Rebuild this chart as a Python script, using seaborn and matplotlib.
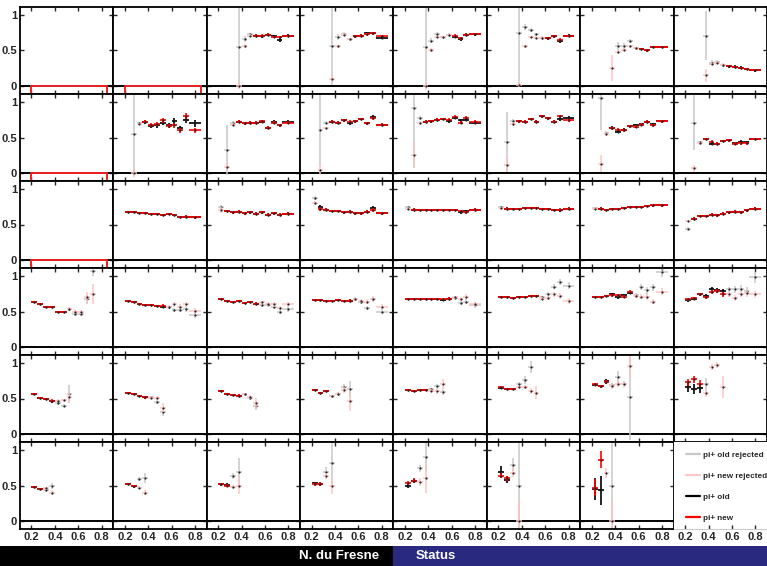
import matplotlib
matplotlib.use("Agg")
import numpy as np
import matplotlib.pyplot as plt
from matplotlib.lines import Line2D
import seaborn as sns

N = None

# bin edges shared by every panel (last bin is double width)
BIN_EDGES = [0.2, 0.25, 0.3, 0.35, 0.4, 0.45, 0.5, 0.55, 0.6, 0.65, 0.7, 0.75, 0.85]
X_TICKS = [0.2, 0.4, 0.6, 0.8]
X_TICK_LABELS = ["0.2", "0.4", "0.6", "0.8"]
Y_TICKS = [0, 0.5, 1]
Y_TICK_LABELS = ["0", "0.5", "1"]
LEGEND_LABELS = ["pi+ old rejected", "pi+ new rejected", "pi+ old", "pi+ new"]
FOOTER_LEFT = "N. du Fresne"
FOOTER_RIGHT = "Status"

# ---- row 1 ----
R1_OLD = [[], [],
          [N, N, N, 0.55, 0.66, 0.73, 0.71, 0.70, 0.72, 0.70, 0.65, 0.71],
          [N, N, N, 0.57, 0.69, 0.73, 0.66, 0.70, 0.71, 0.74, 0.74, 0.68],
          [N, N, N, 0.55, 0.64, 0.73, 0.69, 0.72, 0.69, 0.66, 0.72, 0.73],
          [N, N, N, 0.75, 0.83, 0.79, 0.73, 0.68, 0.67, 0.70, 0.63, 0.71],
          [N, N, N, N, 0.56, 0.56, 0.63, 0.53, 0.52, 0.50, 0.55, 0.55],
          [N, N, N, 0.71, 0.33, 0.34, 0.29, 0.28, 0.27, 0.26, 0.24, 0.22]]
R1_OLD_ERR = [[], [],
              [N, N, N, 0.55, 0.04, 0.02, 0.02, 0.02, 0.02, 0.02, 0.03, 0.02],
              [N, N, N, 0.55, 0.04, 0.03, 0.02, 0.02, 0.02, 0.02, 0.02, 0.02],
              [N, N, N, 0.55, 0.04, 0.03, 0.02, 0.02, 0.02, 0.02, 0.02, 0.02],
              [N, N, N, 0.75, 0.04, 0.03, 0.02, 0.02, 0.02, 0.02, 0.03, 0.02],
              [N, N, N, N, 0.06, 0.05, 0.03, 0.02, 0.02, 0.02, 0.02, 0.02],
              [N, N, N, 0.35, 0.03, 0.02, 0.02, 0.02, 0.02, 0.02, 0.02, 0.02]]
R1_NEW = [[], [],
          [N, N, N, 0.00, 0.56, 0.71, 0.71, 0.71, 0.72, 0.69, 0.69, 0.71],
          [N, N, N, 0.10, 0.56, 0.72, 0.66, 0.70, 0.71, 0.73, 0.74, 0.71],
          [N, N, N, 0.00, 0.51, 0.69, 0.69, 0.72, 0.71, 0.67, 0.72, 0.73],
          [N, N, N, 0.02, 0.56, 0.69, 0.68, 0.68, 0.67, 0.70, 0.65, 0.71],
          [N, N, N, 0.25, 0.48, 0.51, 0.56, 0.53, 0.52, 0.50, 0.55, 0.55],
          [N, N, N, 0.15, 0.31, 0.33, 0.30, 0.28, 0.27, 0.26, 0.24, 0.22]]
R1_NEW_ERR = [[], [],
              [N, N, N, 0.04, 0.03, 0.02, 0.02, 0.02, 0.02, 0.02, 0.02, 0.01],
              [N, N, N, 0.07, 0.02, 0.02, 0.02, 0.02, 0.02, 0.02, 0.02, 0.01],
              [N, N, N, 0.05, 0.03, 0.02, 0.02, 0.02, 0.02, 0.02, 0.02, 0.01],
              [N, N, N, 0.03, 0.02, 0.02, 0.02, 0.02, 0.02, 0.02, 0.02, 0.01],
              [N, N, N, 0.18, 0.03, 0.02, 0.02, 0.02, 0.02, 0.02, 0.02, 0.01],
              [N, N, N, 0.09, 0.02, 0.02, 0.02, 0.01, 0.01, 0.01, 0.01, 0.01]]
R1_KEEP = [N, N, (6, 11), (7, 11), (8, 11), (8, 11), (8, 11), (7, 11)]

# ---- row 2 ----
R2_OLD = [[],
          [N, 0.55, 0.70, 0.72, 0.66, 0.67, 0.70, 0.67, 0.73, 0.63, 0.75, 0.70],
          [N, 0.33, 0.71, 0.72, 0.70, 0.71, 0.71, 0.72, 0.64, 0.72, 0.67, 0.72],
          [N, 0.60, 0.71, 0.72, 0.71, 0.74, 0.70, 0.73, 0.76, 0.70, 0.79, 0.68],
          [N, 0.92, 0.77, 0.72, 0.73, 0.75, 0.76, 0.73, 0.78, 0.74, 0.75, 0.71],
          [N, 0.44, 0.73, 0.73, 0.72, 0.76, 0.72, 0.80, 0.77, 0.72, 0.76, 0.78],
          [N, 1.05, 0.56, 0.64, 0.58, 0.61, 0.66, 0.67, 0.69, 0.72, 0.69, 0.73],
          [N, 0.71, 0.43, 0.48, 0.41, 0.41, 0.45, 0.46, 0.42, 0.44, 0.43, 0.48]]
R2_OLD_ERR = [[],
              [N, 0.56, 0.02, 0.03, 0.03, 0.03, 0.03, 0.03, 0.04, 0.03, 0.05, 0.05],
              [N, 0.35, 0.02, 0.02, 0.02, 0.02, 0.02, 0.02, 0.02, 0.02, 0.02, 0.02],
              [N, 0.50, 0.02, 0.02, 0.02, 0.02, 0.02, 0.02, 0.02, 0.02, 0.03, 0.02],
              [N, 0.85, 0.03, 0.02, 0.02, 0.02, 0.02, 0.02, 0.02, 0.02, 0.02, 0.02],
              [N, 0.42, 0.03, 0.02, 0.02, 0.02, 0.02, 0.02, 0.02, 0.02, 0.03, 0.02],
              [N, 0.45, 0.03, 0.02, 0.02, 0.02, 0.02, 0.02, 0.02, 0.02, 0.02, 0.02],
              [N, 0.38, 0.02, 0.02, 0.02, 0.02, 0.02, 0.02, 0.02, 0.02, 0.02, 0.02]]
R2_NEW = [[],
          [N, 0.00, 0.69, 0.72, 0.68, 0.69, 0.74, 0.66, 0.67, 0.60, 0.80, 0.60],
          [N, 0.09, 0.68, 0.72, 0.70, 0.71, 0.71, 0.73, 0.64, 0.71, 0.67, 0.71],
          [N, 0.05, 0.63, 0.72, 0.71, 0.74, 0.72, 0.73, 0.76, 0.70, 0.77, 0.68],
          [N, 0.26, 0.70, 0.72, 0.73, 0.75, 0.76, 0.75, 0.79, 0.71, 0.78, 0.72],
          [N, 0.12, 0.69, 0.73, 0.72, 0.76, 0.72, 0.80, 0.77, 0.72, 0.80, 0.74],
          [N, 0.13, 0.55, 0.63, 0.61, 0.60, 0.66, 0.65, 0.68, 0.72, 0.67, 0.73],
          [N, 0.07, 0.42, 0.48, 0.44, 0.41, 0.45, 0.46, 0.41, 0.42, 0.42, 0.48]]
R2_NEW_ERR = [[],
              [N, 0.06, 0.02, 0.02, 0.03, 0.03, 0.03, 0.03, 0.03, 0.03, 0.04, 0.03],
              [N, 0.06, 0.02, 0.02, 0.02, 0.02, 0.02, 0.02, 0.02, 0.02, 0.02, 0.02],
              [N, 0.08, 0.02, 0.02, 0.02, 0.02, 0.02, 0.02, 0.02, 0.02, 0.02, 0.02],
              [N, 0.18, 0.03, 0.02, 0.02, 0.02, 0.02, 0.02, 0.02, 0.02, 0.02, 0.02],
              [N, 0.10, 0.03, 0.02, 0.02, 0.02, 0.02, 0.02, 0.02, 0.02, 0.02, 0.02],
              [N, 0.12, 0.03, 0.02, 0.02, 0.02, 0.02, 0.02, 0.02, 0.02, 0.02, 0.02],
              [N, 0.05, 0.02, 0.02, 0.02, 0.02, 0.02, 0.02, 0.02, 0.02, 0.02, 0.02]]
R2_KEEP = [N, (3, 11), (3, 11), (3, 11), (3, 11), (3, 11), (3, 11), (3, 11)]

# ---- row 3 ----
R3_OLD = [[],
          [0.67, 0.67, 0.66, 0.66, 0.65, 0.65, 0.64, 0.65, 0.63, 0.61, 0.61, 0.60],
          [0.74, 0.69, 0.67, 0.68, 0.66, 0.67, 0.65, 0.67, 0.64, 0.66, 0.64, 0.65],
          [0.87, 0.74, 0.71, 0.69, 0.69, 0.67, 0.68, 0.66, 0.66, 0.68, 0.73, 0.66],
          [0.74, 0.71, 0.71, 0.70, 0.71, 0.70, 0.70, 0.71, 0.70, 0.67, 0.69, 0.71],
          [0.74, 0.72, 0.72, 0.72, 0.73, 0.73, 0.73, 0.72, 0.72, 0.71, 0.70, 0.72],
          [0.73, 0.72, 0.70, 0.72, 0.72, 0.73, 0.74, 0.74, 0.75, 0.76, 0.77, 0.77],
          [0.44, 0.58, 0.62, 0.62, 0.64, 0.63, 0.65, 0.67, 0.68, 0.67, 0.70, 0.72]]
R3_OLD_ERR = [[],
              [0.01, 0.01, 0.01, 0.01, 0.01, 0.01, 0.01, 0.01, 0.01, 0.01, 0.02, 0.02],
              [0.04, 0.02, 0.02, 0.02, 0.02, 0.02, 0.02, 0.02, 0.02, 0.02, 0.02, 0.02],
              [0.03, 0.03, 0.02, 0.02, 0.02, 0.02, 0.02, 0.02, 0.02, 0.02, 0.03, 0.02],
              [0.02, 0.02, 0.01, 0.01, 0.01, 0.01, 0.01, 0.01, 0.01, 0.02, 0.02, 0.02],
              [0.02, 0.02, 0.01, 0.01, 0.01, 0.01, 0.01, 0.01, 0.01, 0.01, 0.02, 0.02],
              [0.02, 0.02, 0.01, 0.01, 0.01, 0.01, 0.01, 0.01, 0.01, 0.01, 0.02, 0.02],
              [0.02, 0.02, 0.02, 0.02, 0.02, 0.02, 0.02, 0.02, 0.02, 0.02, 0.02, 0.02]]
R3_NEW = [[],
          [0.67, 0.67, 0.66, 0.66, 0.65, 0.65, 0.64, 0.65, 0.63, 0.61, 0.61, 0.60],
          [0.70, 0.69, 0.67, 0.68, 0.66, 0.67, 0.65, 0.67, 0.64, 0.66, 0.64, 0.65],
          [0.80, 0.72, 0.71, 0.69, 0.69, 0.67, 0.68, 0.66, 0.66, 0.68, 0.70, 0.66],
          [0.72, 0.71, 0.71, 0.70, 0.71, 0.70, 0.70, 0.71, 0.70, 0.69, 0.67, 0.71],
          [0.73, 0.72, 0.72, 0.72, 0.73, 0.73, 0.73, 0.72, 0.72, 0.71, 0.71, 0.72],
          [0.72, 0.72, 0.70, 0.72, 0.72, 0.73, 0.74, 0.74, 0.75, 0.76, 0.77, 0.77],
          [0.55, 0.58, 0.62, 0.62, 0.64, 0.63, 0.65, 0.67, 0.68, 0.67, 0.70, 0.72]]
R3_NEW_ERR = R3_OLD_ERR
R3_KEEP = [N, (0, 11), (1, 11), (1, 11), (1, 11), (1, 11), (1, 11), (1, 11)]

# ---- row 4 ----
R4_OLD = [[0.63, 0.60, 0.57, 0.57, 0.50, 0.50, 0.53, 0.47, 0.47, 0.67, 1.07],
          [0.65, 0.63, 0.60, 0.59, 0.59, 0.58, 0.57, 0.56, 0.52, 0.52, 0.53, 0.45],
          [0.67, 0.65, 0.64, 0.65, 0.62, 0.63, 0.61, 0.59, 0.59, 0.56, 0.50, 0.53],
          [0.66, 0.66, 0.65, 0.65, 0.66, 0.65, 0.65, 0.68, 0.63, 0.55, 0.67, 0.50],
          [0.68, 0.67, 0.67, 0.68, 0.68, 0.67, 0.66, 0.68, 0.69, 0.62, 0.64, 0.59],
          [0.70, 0.70, 0.69, 0.70, 0.71, 0.72, 0.72, 0.70, 0.75, 0.85, 0.91, 0.86],
          [0.70, 0.71, 0.72, 0.74, 0.70, 0.73, 0.76, 0.73, 0.84, 0.80, 0.84, 1.05],
          [0.66, 0.68, 0.74, 0.72, 0.82, 0.80, 0.79, 0.81, 0.81, 0.82, 0.79, 0.98]]
R4_OLD_ERR = [[0.01, 0.01, 0.01, 0.01, 0.01, 0.01, 0.02, 0.03, 0.03, 0.06, 0.07],
              [0.01, 0.01, 0.01, 0.01, 0.01, 0.01, 0.02, 0.02, 0.03, 0.03, 0.03, 0.04],
              [0.01, 0.01, 0.01, 0.01, 0.01, 0.01, 0.02, 0.02, 0.03, 0.03, 0.03, 0.04],
              [0.01, 0.01, 0.01, 0.01, 0.01, 0.01, 0.02, 0.02, 0.03, 0.03, 0.04, 0.04],
              [0.01, 0.01, 0.01, 0.01, 0.01, 0.01, 0.01, 0.02, 0.02, 0.03, 0.03, 0.04],
              [0.01, 0.01, 0.01, 0.01, 0.01, 0.01, 0.01, 0.02, 0.03, 0.04, 0.04, 0.05],
              [0.01, 0.01, 0.01, 0.02, 0.02, 0.02, 0.02, 0.03, 0.04, 0.05, 0.05, 0.06],
              [0.02, 0.02, 0.02, 0.03, 0.03, 0.03, 0.03, 0.04, 0.05, 0.05, 0.06, 0.08]]
R4_NEW = [[0.63, 0.60, 0.57, 0.57, 0.50, 0.50, 0.54, 0.50, 0.49, 0.71, 0.74],
          [0.65, 0.63, 0.60, 0.59, 0.59, 0.58, 0.58, 0.57, 0.60, 0.57, 0.60, 0.51],
          [0.67, 0.65, 0.64, 0.65, 0.62, 0.63, 0.61, 0.63, 0.60, 0.60, 0.55, 0.60],
          [0.66, 0.66, 0.65, 0.65, 0.66, 0.65, 0.65, 0.67, 0.65, 0.64, 0.68, 0.57],
          [0.68, 0.67, 0.67, 0.68, 0.68, 0.67, 0.67, 0.68, 0.70, 0.68, 0.71, 0.60],
          [0.70, 0.70, 0.69, 0.70, 0.71, 0.72, 0.72, 0.68, 0.69, 0.74, 0.72, 0.65],
          [0.70, 0.71, 0.72, 0.73, 0.73, 0.71, 0.78, 0.72, 0.71, 0.70, 0.64, 0.78],
          [0.67, 0.69, 0.74, 0.70, 0.77, 0.79, 0.74, 0.74, 0.69, 0.75, 0.76, 0.74]]
R4_NEW_ERR = [[0.01, 0.01, 0.01, 0.01, 0.01, 0.01, 0.02, 0.03, 0.03, 0.07, 0.14],
              [0.01, 0.01, 0.01, 0.01, 0.01, 0.01, 0.02, 0.02, 0.03, 0.03, 0.03, 0.04],
              [0.01, 0.01, 0.01, 0.01, 0.01, 0.01, 0.02, 0.02, 0.03, 0.03, 0.03, 0.04],
              [0.01, 0.01, 0.01, 0.01, 0.01, 0.01, 0.02, 0.02, 0.03, 0.03, 0.04, 0.04],
              [0.01, 0.01, 0.01, 0.01, 0.01, 0.01, 0.01, 0.02, 0.02, 0.03, 0.03, 0.04],
              [0.01, 0.01, 0.01, 0.01, 0.01, 0.01, 0.01, 0.02, 0.03, 0.03, 0.04, 0.04],
              [0.01, 0.01, 0.01, 0.02, 0.02, 0.02, 0.02, 0.03, 0.03, 0.04, 0.04, 0.05],
              [0.02, 0.02, 0.02, 0.02, 0.03, 0.03, 0.03, 0.03, 0.04, 0.04, 0.05, 0.05]]
R4_KEEP = [(0, 5), (0, 6), (0, 6), (0, 6), (0, 7), (0, 6), (0, 6), (0, 6)]

# ---- row 5 ----
R5_OLD = [[0.56, 0.51, 0.49, 0.46, 0.43, 0.40, 0.56],
          [0.58, 0.56, 0.54, 0.52, 0.52, 0.45, 0.31],
          [0.60, 0.57, 0.55, 0.54, 0.56, 0.51, 0.40],
          [0.62, 0.58, 0.61, 0.53, 0.57, 0.66, 0.63],
          [0.62, 0.61, 0.62, 0.62, 0.63, 0.67, 0.59],
          [0.65, 0.64, 0.64, 0.70, 0.76, 0.94],
          [0.69, 0.67, 0.74, 0.69, 0.80, 0.71, 0.52],
          [0.66, 0.64, 0.65, 0.70]]
R5_OLD_ERR = [[0.01, 0.01, 0.01, 0.02, 0.02, 0.02, 0.13],
              [0.01, 0.01, 0.01, 0.02, 0.02, 0.03, 0.05],
              [0.01, 0.01, 0.01, 0.02, 0.02, 0.03, 0.06],
              [0.01, 0.01, 0.01, 0.02, 0.02, 0.05, 0.11],
              [0.01, 0.01, 0.01, 0.02, 0.02, 0.03, 0.04],
              [0.01, 0.01, 0.01, 0.03, 0.05, 0.08],
              [0.02, 0.02, 0.04, 0.03, 0.08, 0.04, 0.60],
              [0.07, 0.07, 0.07, 0.09]]
R5_NEW = [[0.56, 0.51, 0.49, 0.47, 0.47, 0.48, 0.52],
          [0.58, 0.56, 0.54, 0.52, 0.51, 0.51, 0.37],
          [0.60, 0.57, 0.55, 0.54, 0.56, 0.52, 0.44],
          [0.62, 0.58, 0.61, 0.53, 0.57, 0.62, 0.46],
          [0.62, 0.61, 0.62, 0.62, 0.61, 0.60, 0.70],
          [0.66, 0.64, 0.64, 0.66, 0.66, 0.61, 0.58],
          [0.70, 0.67, 0.73, 0.67, 0.70, 0.70, 0.95],
          [0.73, 0.77, 0.71, 0.58, 0.94, 0.97, 0.66]]
R5_NEW_ERR = [[0.01, 0.01, 0.01, 0.02, 0.02, 0.02, 0.09],
              [0.01, 0.01, 0.01, 0.02, 0.02, 0.03, 0.06],
              [0.01, 0.01, 0.01, 0.02, 0.02, 0.03, 0.07],
              [0.01, 0.01, 0.01, 0.02, 0.02, 0.04, 0.13],
              [0.01, 0.01, 0.01, 0.02, 0.02, 0.03, 0.08],
              [0.01, 0.01, 0.01, 0.02, 0.03, 0.04, 0.09],
              [0.02, 0.02, 0.03, 0.03, 0.04, 0.05, 0.15],
              [0.05, 0.05, 0.05, 0.06, 0.04, 0.04, 0.15]]
R5_KEEP = [(0, 3), (0, 3), (0, 3), (0, 2), (0, 3), (0, 2), (0, 2), (0, 2)]

# ---- row 6 (column 8 holds the legend) ----
R6_OLD = [[0.48, 0.45, 0.43, 0.49],
          [0.52, 0.49, 0.59, 0.60],
          [0.52, 0.51, 0.63, 0.69],
          [0.53, 0.52, 0.69, 0.81],
          [0.50, 0.56, 0.74, 0.90],
          [0.69, 0.58, 0.79, 0.50],
          [0.45, 0.43, N, 0.50],
          []]
R6_OLD_ERR = [[0.01, 0.01, 0.02, 0.04],
              [0.01, 0.02, 0.03, 0.07],
              [0.02, 0.02, 0.04, 0.20],
              [0.02, 0.03, 0.07, 0.30],
              [0.03, 0.03, 0.05, 0.20],
              [0.08, 0.05, 0.09, 0.60],
              [0.15, 0.20, N, 0.60],
              []]
R6_NEW = [[0.48, 0.45, 0.46, 0.40],
          [0.52, 0.49, 0.47, 0.40],
          [0.52, 0.50, 0.48, 0.50],
          [0.52, 0.52, 0.63, 0.50],
          [0.54, 0.57, 0.55, 0.60],
          [0.64, 0.60, 0.68, 0.00],
          [0.47, 0.86, 0.67, 0.00],
          []]
R6_NEW_ERR = [[0.01, 0.01, 0.02, 0.03],
              [0.01, 0.02, 0.02, 0.04],
              [0.01, 0.02, 0.03, 0.12],
              [0.02, 0.03, 0.04, 0.12],
              [0.03, 0.03, 0.05, 0.20],
              [0.04, 0.04, 0.06, 0.30],
              [0.12, 0.12, 0.07, 0.30],
              []]
R6_KEEP = [(0, 1), (0, 1), (0, 1), (0, 1), (0, 1), (0, 1), (0, 1), N]

ROWS = [
    (R1_OLD, R1_OLD_ERR, R1_NEW, R1_NEW_ERR, R1_KEEP),
    (R2_OLD, R2_OLD_ERR, R2_NEW, R2_NEW_ERR, R2_KEEP),
    (R3_OLD, R3_OLD_ERR, R3_NEW, R3_NEW_ERR, R3_KEEP),
    (R4_OLD, R4_OLD_ERR, R4_NEW, R4_NEW_ERR, R4_KEEP),
    (R5_OLD, R5_OLD_ERR, R5_NEW, R5_NEW_ERR, R5_KEEP),
    (R6_OLD, R6_OLD_ERR, R6_NEW, R6_NEW_ERR, R6_KEEP),
]

# colours
C_OLD_REJ = "#c8c8c8"
C_NEW_REJ = "#ffc4c4"
C_OLD = "black"
C_NEW = "#ff0000"

sns.set_style("ticks")
plt.rcParams["font.family"] = ["Liberation Sans", "DejaVu Sans"]
plt.rcParams["font.weight"] = "bold"

W, H = 767, 566
fig = plt.figure(figsize=(W / 100, H / 100), dpi=100)

LEFT, TOP = 19.8, 7.0
PW, PH = 93.4, 87.0


def split_points(vals, errs, keep):
    acc, rej = [], []
    for i, (v, e) in enumerate(zip(vals, errs)):
        if v is None:
            continue
        lo, hi = BIN_EDGES[i], BIN_EDGES[i + 1]
        pt = ((lo + hi) / 2, v, (hi - lo) / 2, e)
        if keep[0] <= i <= keep[1]:
            acc.append(pt)
        else:
            rej.append(pt)
    return acc, rej


def draw_points(ax, pts, color, lw, z):
    if not pts:
        return
    x, y, xe, ye = map(np.array, zip(*pts))
    ax.errorbar(x, y, xerr=xe, yerr=ye, fmt="none", ecolor=color,
                elinewidth=lw, capsize=0, zorder=z)
    sns.scatterplot(x=x, y=y, ax=ax, s=2.5, color="#222222",
                    linewidth=0, zorder=z + 0.05, legend=False)


for r, (old, old_err, new, new_err, keep) in enumerate(ROWS):
    for c in range(8):
        x0 = (LEFT + c * PW) / W
        y0 = 1 - (TOP + (r + 1) * PH) / H
        ax = fig.add_axes([x0, y0, PW / W, PH / H])
        ax.set_xlim(0.1, 0.9)
        ax.set_ylim(-0.11, 1.11)
        ax.set_xticks(X_TICKS)
        ax.set_yticks(Y_TICKS)
        ax.tick_params(direction="in", length=3, width=1, top=True,
                       right=True, labelsize=8, pad=2)
        ax.set_xticklabels(X_TICK_LABELS if r == 5 else [])
        ax.set_yticklabels(Y_TICK_LABELS if c == 0 else [])
        for lab in ax.get_xticklabels() + ax.get_yticklabels():
            lab.set_fontweight("bold")

        if keep[c] is None and r == 5:
            # legend panel
            for s in ["left", "right", "top"]:
                ax.spines[s].set_visible(False)
            ax.spines["bottom"].set_color("#cccccc")
            ax.tick_params(left=False, right=False, top=False)
            handles = [Line2D([], [], color=col, lw=1.6)
                       for col in [C_OLD_REJ, C_NEW_REJ, C_OLD, C_NEW]]
            ax.legend(handles, LEGEND_LABELS, loc="upper left",
                      bbox_to_anchor=(0.10, 0.93), frameon=False,
                      prop={"size": 5.9, "weight": "bold"},
                      handlelength=1.7, handletextpad=0.4,
                      labelspacing=1.6, borderaxespad=0.0)
            continue

        for s in ax.spines.values():
            s.set_linewidth(1.3)
            s.set_color("black")
        ax.axhline(0, color="black", lw=1.4, zorder=1.5)

        if keep[c] is None:
            # empty histogram drawn as a red box at zero
            ax.plot([BIN_EDGES[0], BIN_EDGES[0], BIN_EDGES[-1], BIN_EDGES[-1]],
                    [-0.5, 0, 0, -0.5], color="#ee2222", lw=1.4, zorder=2)
            continue

        o_acc, o_rej = split_points(old[c], old_err[c], keep[c])
        n_acc, n_rej = split_points(new[c], new_err[c], keep[c])
        draw_points(ax, o_rej, C_OLD_REJ, 1.1, 2.0)
        draw_points(ax, n_rej, C_NEW_REJ, 1.1, 2.2)
        draw_points(ax, o_acc, C_OLD, 1.2, 3.0)
        draw_points(ax, n_acc, C_NEW, 1.2, 3.2)

# footer bar
foot = fig.add_axes([0, 0, 1, 20 / H])
foot.set_xlim(0, W)
foot.set_ylim(0, 20)
foot.axis("off")
foot.add_patch(plt.Rectangle((0, 0), W, 20, color="black"))
foot.add_patch(plt.Rectangle((393, 0), W - 393, 20, color="#29297f"))
foot.text(379, 10, FOOTER_LEFT, color="white", fontsize=9.5,
          fontweight="bold", ha="right", va="center")
foot.text(416, 10, FOOTER_RIGHT, color="white", fontsize=9.5,
          fontweight="bold", ha="left", va="center")

fig.savefig("out.png", dpi=100, facecolor="white")
